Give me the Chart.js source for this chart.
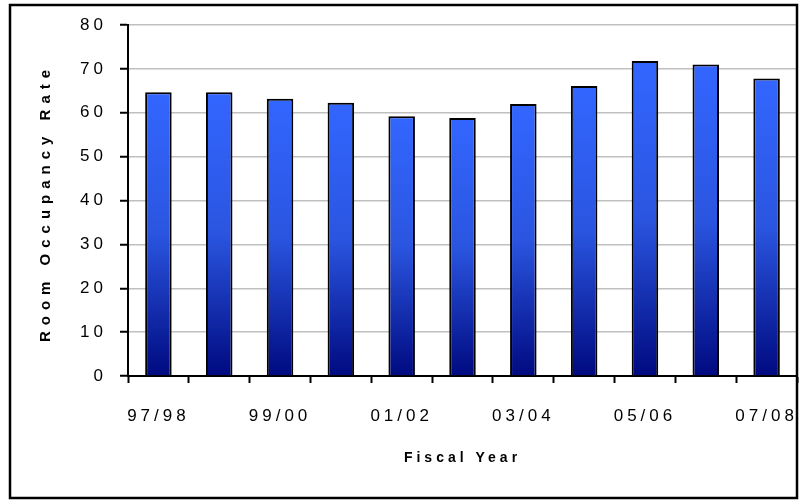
<!DOCTYPE html>
<html>
<head>
<meta charset="utf-8">
<script src="https://cdn.jsdelivr.net/npm/chart.js@4/dist/chart.umd.min.js"></script>
<style>
  body { margin: 0; background: #fff; }
  canvas { display: block; }
</style>
</head>
<body>
<canvas id="occupancyChart" width="802" height="501"></canvas>
<script>
// data
const fiscalYears = ['97/98', '98/99', '99/00', '00/01', '01/02', '02/03', '03/04', '04/05', '05/06', '06/07', '07/08'];
const occupancyRates = [64.7, 64.7, 63.2, 62.3, 59.2, 58.8, 62.0, 66.1, 71.8, 71.0, 67.8];
const shownYears = ['97/98', '99/00', '01/02', '03/04', '05/06', '07/08'];
const yMin = 0, yMax = 80, yStep = 10;
const xTitle = 'Fiscal Year';
const yTitle = 'Room Occupancy Rate';

const FONT = '"Liberation Sans", Arial, sans-serif';

// gradient per bar, bright blue on top to navy at the base
function barFill(ctx) {
  const chart = ctx.chart;
  if (!chart.chartArea) return '#3366ff';
  const y = chart.scales.y;
  const top = y.getPixelForValue(ctx.raw);
  const bottom = y.getPixelForValue(0);
  const g = chart.ctx.createLinearGradient(0, top, 0, bottom);
  g.addColorStop(0, '#3366ff');
  g.addColorStop(0.5, '#2a55e0');
  g.addColorStop(1, '#000a80');
  return g;
}

// white background, spaced-out lettering, titles and the outer frame
const framePlugin = {
  id: 'frame',
  beforeDraw(chart) {
    const c = chart.ctx;
    c.save();
    c.fillStyle = '#fff';
    c.fillRect(0, 0, chart.width, chart.height);
    c.restore();
    c.letterSpacing = '4px';
  },
  afterDraw(chart) {
    const c = chart.ctx;
    const a = chart.chartArea;
    c.save();
    c.fillStyle = '#000';
    c.textAlign = 'center';
    c.textBaseline = 'middle';
    c.font = 'bold 14px ' + FONT;
    c.letterSpacing = '4px';
    c.fillText(xTitle, (a.left + a.right) / 2, 458);
    c.translate(46, 206);
    c.rotate(-Math.PI / 2);
    c.font = 'bold 15px ' + FONT;
    c.letterSpacing = '6px';
    c.fillText(yTitle, 3, 0);
    c.restore();

    c.save();
    c.letterSpacing = '0px';
    c.lineWidth = 2.5;
    c.strokeStyle = '#000';
    c.strokeRect(10, 5, 787, 493);
    c.restore();
  }
};

const ctx = document.getElementById('occupancyChart').getContext('2d');
const myChart = new Chart(ctx, {
  type: 'bar',
  data: {
    labels: fiscalYears,
    datasets: [{
      data: occupancyRates,
      backgroundColor: barFill,
      borderColor: '#000',
      borderWidth: 2,
      barPercentage: 0.436,
      categoryPercentage: 1
    }]
  },
  options: {
    responsive: false,
    animation: false,
    layout: { padding: { left: 0, right: 5, top: 25, bottom: 0 } },
    plugins: {
      legend: { display: false },
      tooltip: { enabled: false }
    },
    scales: {
      x: {
        grid: {
          drawOnChartArea: false,
          drawTicks: true,
          tickLength: 7,
          tickColor: '#000',
          tickWidth: 2
        },
        border: { color: '#000', width: 2 },
        ticks: {
          autoSkip: false,
          maxRotation: 0,
          padding: 23,
          color: '#000',
          font: { family: FONT, size: 17 },
          callback: function(value, i) {
            const lbl = fiscalYears[i];
            return shownYears.includes(lbl) ? lbl : '';
          }
        },
        afterFit: function(s) {
          s.height = 125;
          s.paddingLeft = 0;
          s.paddingRight = 0;
        }
      },
      y: {
        min: yMin,
        max: yMax,
        grid: {
          color: '#c0c0c0',
          lineWidth: 1.5,
          tickLength: 8,
          tickColor: '#000',
          tickWidth: 2
        },
        border: { color: '#000', width: 2 },
        ticks: {
          stepSize: yStep,
          padding: 13,
          color: '#000',
          font: { family: FONT, size: 17 }
        },
        afterFit: function(s) {
          s.width = 128;
          s.paddingTop = 0;
          s.paddingBottom = 0;
        }
      }
    }
  },
  plugins: [framePlugin]
});
</script>
</body>
</html>
